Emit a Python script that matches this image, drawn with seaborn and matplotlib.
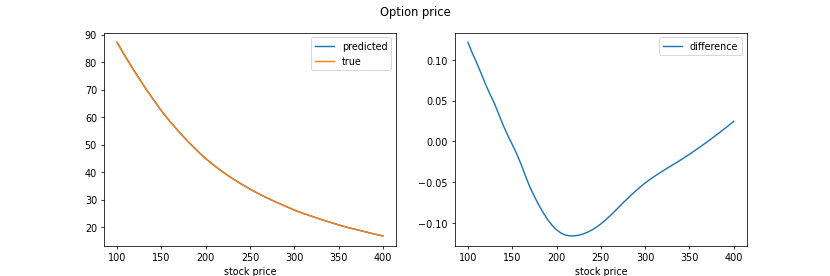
import matplotlib
matplotlib.use("Agg")
import matplotlib.pyplot as plt
import pandas as pd
import seaborn as sns

# left panel: option price vs stock price
price_x = [100, 110, 120, 130, 140, 150, 160, 170, 180, 190, 200, 210, 220, 230, 240, 250,
           260, 270, 280, 290, 300, 310, 320, 330, 340, 350, 360, 370, 380, 390, 400]
true_price = [87.1, 81.6, 76.4, 71.5, 66.8, 62.3, 58.3, 54.6, 51.1, 47.9, 44.9, 42.3, 39.9,
              37.7, 35.7, 33.8, 32.1, 30.5, 29.0, 27.6, 26.2, 25.0, 23.9, 22.8, 21.8, 20.8,
              19.9, 19.1, 18.3, 17.5, 16.8]
predicted_price = [87.2, 81.7, 76.5, 71.5, 66.8, 62.3, 58.3, 54.6, 51.1, 47.9, 44.9, 42.3, 39.9,
                   37.7, 35.7, 33.8, 32.1, 30.5, 29.0, 27.6, 26.2, 25.0, 23.9, 22.8, 21.8, 20.8,
                   19.9, 19.1, 18.3, 17.5, 16.8]

# right panel: predicted - true
diff_x = [100, 105, 110, 115, 120, 125, 130, 135, 140, 145, 150, 155, 160, 165, 170, 175,
          180, 185, 190, 195, 200, 205, 210, 215, 220, 225, 230, 235, 240, 245, 250, 255,
          260, 265, 270, 275, 280, 285, 290, 295, 300, 305, 310, 315, 320, 325, 330, 335,
          340, 345, 350, 355, 360, 365, 370, 375, 380, 385, 390, 395, 400]
difference = [0.1220, 0.1085, 0.0965, 0.0835, 0.0700, 0.0580, 0.0465, 0.0330, 0.0195, 0.0075,
              -0.0035, -0.0150, -0.0280, -0.0425, -0.0560, -0.0675, -0.0780, -0.0875, -0.0960,
              -0.1030, -0.1085, -0.1125, -0.1150, -0.1160, -0.1160, -0.1152, -0.1137, -0.1115,
              -0.1087, -0.1053, -0.1013, -0.0968, -0.0918, -0.0865, -0.0810, -0.0755, -0.0702,
              -0.0651, -0.0602, -0.0555, -0.0510, -0.0470, -0.0432, -0.0396, -0.0362, -0.0328,
              -0.0295, -0.0262, -0.0228, -0.0193, -0.0157, -0.0120, -0.0082, -0.0044, -0.0005,
              0.0035, 0.0076, 0.0118, 0.0160, 0.0203, 0.0247]

left_df = pd.DataFrame({"stock price": price_x, "predicted": predicted_price, "true": true_price})
right_df = pd.DataFrame({"stock price": diff_x, "difference": difference})

fig, (ax1, ax2) = plt.subplots(1, 2, figsize=(12, 4), dpi=830 / 12)

sns.lineplot(data=left_df, x="stock price", y="predicted", ax=ax1, color="C0", label="predicted")
sns.lineplot(data=left_df, x="stock price", y="true", ax=ax1, color="C1", label="true")
ax1.set_ylabel("")
ax1.legend(loc="upper right")

sns.lineplot(data=right_df, x="stock price", y="difference", ax=ax2, color="C0", label="difference")
ax2.set_ylabel("")
ax2.legend(loc="upper right")

fig.suptitle("Option price")
fig.savefig("out.png")
